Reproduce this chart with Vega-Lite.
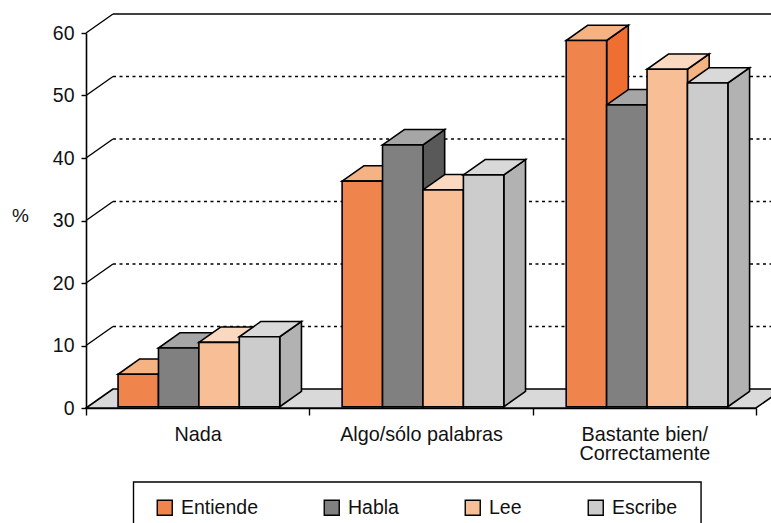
{
"$schema":"https://vega.github.io/schema/vega-lite/v6.json",
"width":670,"height":375,
"autosize":"none",
"padding":{"left":86,"top":33,"right":15,"bottom":115},
"background":"white",
"config":{"view":{"stroke":null},"font":"Liberation Sans"},
"data":{"name":"bars"},
"datasets":{
"bars":[
{"group":0,"category":"Nada","slot":0,"series":"Entiende","value":5.4},
{"group":0,"category":"Nada","slot":1,"series":"Habla","value":9.6},
{"group":0,"category":"Nada","slot":2,"series":"Lee","value":10.5},
{"group":0,"category":"Nada","slot":3,"series":"Escribe","value":11.4},
{"group":1,"category":"Algo/sólo palabras","slot":0,"series":"Entiende","value":36.3},
{"group":1,"category":"Algo/sólo palabras","slot":1,"series":"Habla","value":42.1},
{"group":1,"category":"Algo/sólo palabras","slot":2,"series":"Lee","value":34.9},
{"group":1,"category":"Algo/sólo palabras","slot":3,"series":"Escribe","value":37.3},
{"group":2,"category":"Bastante bien/Correctamente","slot":0,"series":"Entiende","value":58.8},
{"group":2,"category":"Bastante bien/Correctamente","slot":1,"series":"Habla","value":48.5},
{"group":2,"category":"Bastante bien/Correctamente","slot":2,"series":"Lee","value":54.2},
{"group":2,"category":"Bastante bien/Correctamente","slot":3,"series":"Escribe","value":52.0}
],
"grid":[{"tick":10},{"tick":20},{"tick":30},{"tick":40},{"tick":50},{"tick":60}]
},
"transform":[
{"calculate":"datum.group*1.0033+0.1435+datum.slot*0.181","as":"x0"},
{"calculate":"datum.x0+0.181","as":"x1"}
],
"resolve":{"scale":{"color":"independent"}},
"encoding":{
"x":{"type":"quantitative","scale":{"domain":[0,3],"nice":false,"zero":false}},
"y":{"type":"quantitative","scale":{"domain":[0,60],"nice":false}}
},
"layer":[
{"data":{"name":"grid"},
 "transform":[{"filter":"datum.tick<60"},{"calculate":"datum.tick+3.04","as":"back"},{"calculate":"0.1209","as":"a"},{"calculate":"3.2","as":"b"}],
 "mark":{"type":"rule","color":"black","strokeWidth":1.4,"strokeDash":[3,3.5]},
 "encoding":{"x":{"field":"a","type":"quantitative"},"x2":{"field":"b"},"y":{"field":"back","type":"quantitative"}}},
{"data":{"name":"grid"},
 "transform":[{"filter":"datum.tick==60"},{"calculate":"datum.tick+3.04","as":"back"},{"calculate":"0.1209","as":"a"},{"calculate":"3.2","as":"b"}],
 "mark":{"type":"rule","color":"black","strokeWidth":1.4},
 "encoding":{"x":{"field":"a","type":"quantitative"},"x2":{"field":"b"},"y":{"field":"back","type":"quantitative"}}},
{"data":{"name":"grid"},
 "transform":[{"calculate":"datum.tick+3.04","as":"back"},{"calculate":"0","as":"a"},{"calculate":"0.1209","as":"b"}],
 "mark":{"type":"rule","color":"black","strokeWidth":1.4},
 "encoding":{"x":{"field":"a","type":"quantitative"},"x2":{"field":"b"},"y":{"field":"tick","type":"quantitative"},"y2":{"field":"back"}}},
{"data":{"values":[{"left":0,"right":3,"h":0},{"left":0.1209,"right":3.1209,"h":3.04}]},
 "mark":{"type":"area","orient":"horizontal","fill":"#d9d9d9","stroke":"black","strokeWidth":1.6},
 "encoding":{"x":{"field":"left","type":"quantitative","stack":null},"x2":{"field":"right"},"y":{"field":"h","type":"quantitative"}}},
{"transform":[
 {"calculate":"[datum.x1,datum.x1+0.0972]","as":"xs"},
 {"calculate":"[0.2,2.65]","as":"lo"},
 {"calculate":"[datum.value,datum.value+2.45]","as":"hi"},
 {"flatten":["xs","lo","hi"]},
 {"calculate":"datum.group+'-'+datum.slot","as":"bar"}],
 "mark":{"type":"area","stroke":"black","strokeWidth":1.6,"strokeJoin":"miter","opacity":1},
 "encoding":{"x":{"field":"xs","type":"quantitative"},"y":{"field":"lo","type":"quantitative","stack":null},"y2":{"field":"hi"},"detail":{"field":"bar"},
 "color":{"field":"series","type":"nominal","legend":null,"scale":{"domain":["Entiende","Habla","Lee","Escribe"],"range":["#ee6f31","#595959","#f5b283","#b2b2b2"]}}}},
{"transform":[
 {"calculate":"[datum.x0,datum.x0+0.0972]","as":"xa"},
 {"calculate":"[datum.x1,datum.x1+0.0972]","as":"xb"},
 {"calculate":"[datum.value,datum.value+2.45]","as":"ys"},
 {"flatten":["xa","xb","ys"]},
 {"calculate":"datum.group+'-'+datum.slot","as":"bar"}],
 "mark":{"type":"area","orient":"horizontal","stroke":"black","strokeWidth":1.6,"opacity":1},
 "encoding":{"x":{"field":"xa","type":"quantitative","stack":null},"x2":{"field":"xb"},"y":{"field":"ys","type":"quantitative"},"detail":{"field":"bar"},
 "color":{"field":"series","type":"nominal","legend":null,"scale":{"domain":["Entiende","Habla","Lee","Escribe"],"range":["#f5b283","#a6a6a6","#fbd9c0","#d9d9d9"]}}}},
{"data":{"values":[{"box":1}]},
 "mark":{"type":"rect","fill":"white","stroke":"black","strokeWidth":1.4,"clip":false},
 "encoding":{"x":{"datum":0.2127},"x2":{"datum":2.754},"y":{"datum":-11.84},"y2":{"datum":-19.5}}},
{"mark":{"type":"bar","stroke":"black","strokeWidth":1.6,"opacity":1},
 "transform":[{"calculate":"0.2","as":"base"}],
 "encoding":{"x":{"field":"x0","type":"quantitative",
   "axis":{"values":[0,0.5,1,1.5,2,2.5,3],"title":null,"grid":false,"domainColor":"black","domainWidth":1.6,"tickColor":"black","tickWidth":1.4,"tickSize":7,
     "tickOpacity":{"condition":{"test":"datum.value%1!==0","value":0},"value":1},
     "labelExpr":"datum.value==0.5?'Nada':datum.value==1.5?'Algo/sólo palabras':datum.value==2.5?['Bastante bien/','Correctamente']:''",
     "labelFontSize":19.8,"labelColor":"#111111","labelFont":"Liberation Sans","labelPadding":9,"labelLineHeight":19.5,"labelOverlap":false,"labelFlush":false,"labelAngle":0,"labelBaseline":"top"}},
  "x2":{"field":"x1"},
  "y":{"field":"value","type":"quantitative","stack":null,
   "axis":{"values":[0,10,20,30,40,50,60],"title":"%","titleAngle":0,"titleFont":"Liberation Sans","titleFontSize":19,"titleFontWeight":"normal","titleColor":"#111111","titleX":-66,"titleY":192,"grid":false,"domainColor":"black","domainWidth":1.6,"tickColor":"black","tickWidth":1.4,"tickSize":5,"labelFontSize":19.5,"labelColor":"#111111","labelFont":"Liberation Sans","labelPadding":7}},
  "y2":{"field":"base"},
  "color":{"field":"series","type":"nominal","scale":{"domain":["Entiende","Habla","Lee","Escribe"],"range":["#ef844d","#808080","#f8bf96","#cccccc"]},
   "legend":{"title":null,"orient":"none","legendX":69,"legendY":465,"direction":"horizontal","columns":4,"gridAlign":"none","columnPadding":63,"symbolType":"square","symbolSize":225,"symbolStrokeColor":"black","symbolStrokeWidth":1.4,"symbolOpacity":1,"labelFontSize":19.5,"labelFont":"Liberation Sans","labelColor":"#111111","labelOffset":6.5,"padding":0}}}}
]
}
